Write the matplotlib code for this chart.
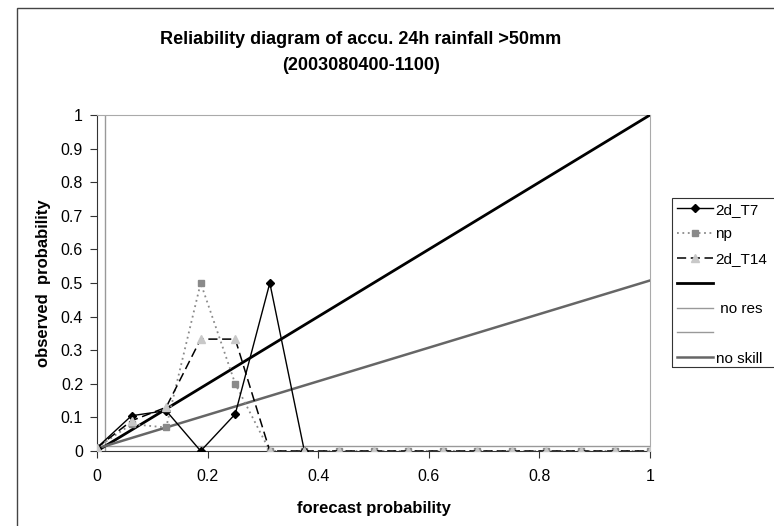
import matplotlib
matplotlib.use("Agg")
import matplotlib.pyplot as plt
from matplotlib.patches import Rectangle

plt.rcParams['font.family'] = ['Liberation Sans', 'DejaVu Sans']

# forecast probability bins
fcst = [0, 0.0625, 0.125, 0.1875, 0.25, 0.3125, 0.375, 0.4375, 0.5,
        0.5625, 0.625, 0.6875, 0.75, 0.8125, 0.875, 0.9375, 1.0]

# observed frequencies
obs_t7 = [0.01, 0.105, 0.12, 0.0, 0.11, 0.5, 0.0]
obs_np = [0.01, 0.08, 0.07, 0.5, 0.2, 0.0, 0.0, 0.0, 0.0,
          0.0, 0.0, 0.0, 0.0, 0.0, 0.0, 0.0, 0.0]
obs_t14 = [0.01, 0.09, 0.13, 0.333, 0.333, 0.0, 0.0, 0.0, 0.0,
           0.0, 0.0, 0.0, 0.0, 0.0, 0.0, 0.0, 0.0]

# reference lines
perfect_x = [0, 1]
perfect_y = [0, 1]
clim = 0.015
noskill_y = [0.0075, 0.5075]

xticks = [0, 0.2, 0.4, 0.6, 0.8, 1.0]
xlabels = ['0', '0.2', '0.4', '0.6', '0.8', '1']
yticks = [0, 0.1, 0.2, 0.3, 0.4, 0.5, 0.6, 0.7, 0.8, 0.9, 1.0]
ylabels = ['0', '0.1', '0.2', '0.3', '0.4', '0.5', '0.6', '0.7', '0.8', '0.9', '1']

fig = plt.figure(figsize=(7.74, 5.26), dpi=100)
ax = fig.add_axes([97 / 774, 1 - 451 / 526, 553 / 774, 336 / 526])

# chart area border (cropped screenshot)
fig.add_artist(Rectangle((17 / 774, -0.1), 2.0, 1.1 - 8 / 526,
                         transform=fig.transFigure, fill=False,
                         edgecolor='#444444', lw=1.0))
# legend box, runs off the right edge like the original
fig.add_artist(Rectangle((672 / 774, 1 - 367 / 526), 1.0, 169 / 526,
                         transform=fig.transFigure, fill=False,
                         edgecolor='#333333', lw=0.8))

l1, = ax.plot(fcst[:len(obs_t7)], obs_t7, color='black', lw=1.0,
              marker='D', markersize=4.5, label='2d_T7', zorder=5)
l2, = ax.plot(fcst, obs_np, color='#8a8a8a', lw=1.3, linestyle=(0, (1, 2)),
              marker='s', markersize=5, label='np', zorder=4)
l3, = ax.plot(fcst, obs_t14, color='black', lw=1.1, linestyle=(0, (6, 3)),
              marker='^', markersize=6, markerfacecolor='#c8c8c8',
              markeredgecolor='#c8c8c8', label='2d_T14', zorder=6)
l4, = ax.plot(perfect_x, perfect_y, color='black', lw=2.0, zorder=3)
l5, = ax.plot([0, 1], [clim, clim], color='#999999', lw=1.0, zorder=2)
l6, = ax.plot([clim, clim], [0, 1], color='#999999', lw=1.0, zorder=2)
l7, = ax.plot(perfect_x, noskill_y, color='#666666', lw=1.8, zorder=3)

ax.set_xlim(0, 1)
ax.set_ylim(0, 1)
ax.set_xticks(xticks)
ax.set_xticklabels(xlabels)
ax.set_yticks(yticks)
ax.set_yticklabels(ylabels)
ax.tick_params(axis='both', labelsize=11.5, length=5, width=0.8, color='#333333')
ax.tick_params(axis='y', pad=5)
ax.tick_params(axis='x', pad=8)

ax.spines['left'].set_color('#333333')
ax.spines['bottom'].set_color('#333333')
ax.spines['top'].set_color('#aaaaaa')
ax.spines['right'].set_color('#aaaaaa')

ax.set_xlabel('forecast probability', fontsize=12, fontweight='bold', labelpad=12)
ax.set_ylabel('observed  probability', fontsize=12, fontweight='bold', labelpad=7)

fig.text(361 / 774, 1 - 40 / 526, 'Reliability diagram of accu. 24h rainfall >50mm',
         ha='center', va='center', fontsize=13, fontweight='bold')
fig.text(361 / 774, 1 - 65 / 526, '(2003080400-1100)',
         ha='center', va='center', fontsize=13, fontweight='bold')

handles = [l1, l2, l3, l4, l5, l6, l7]
labels = ['2d_T7', 'np', '2d_T14', '', ' no res', '', 'no skill']
leg = fig.legend(handles, labels, loc='upper left',
                 bbox_to_anchor=(672 / 774, 1 - 198 / 526),
                 fontsize=11, frameon=False,
                 handlelength=2.4, handletextpad=0.15, labelspacing=0.71,
                 borderpad=0.3, borderaxespad=0)

fig.savefig('out.png', dpi=100)
